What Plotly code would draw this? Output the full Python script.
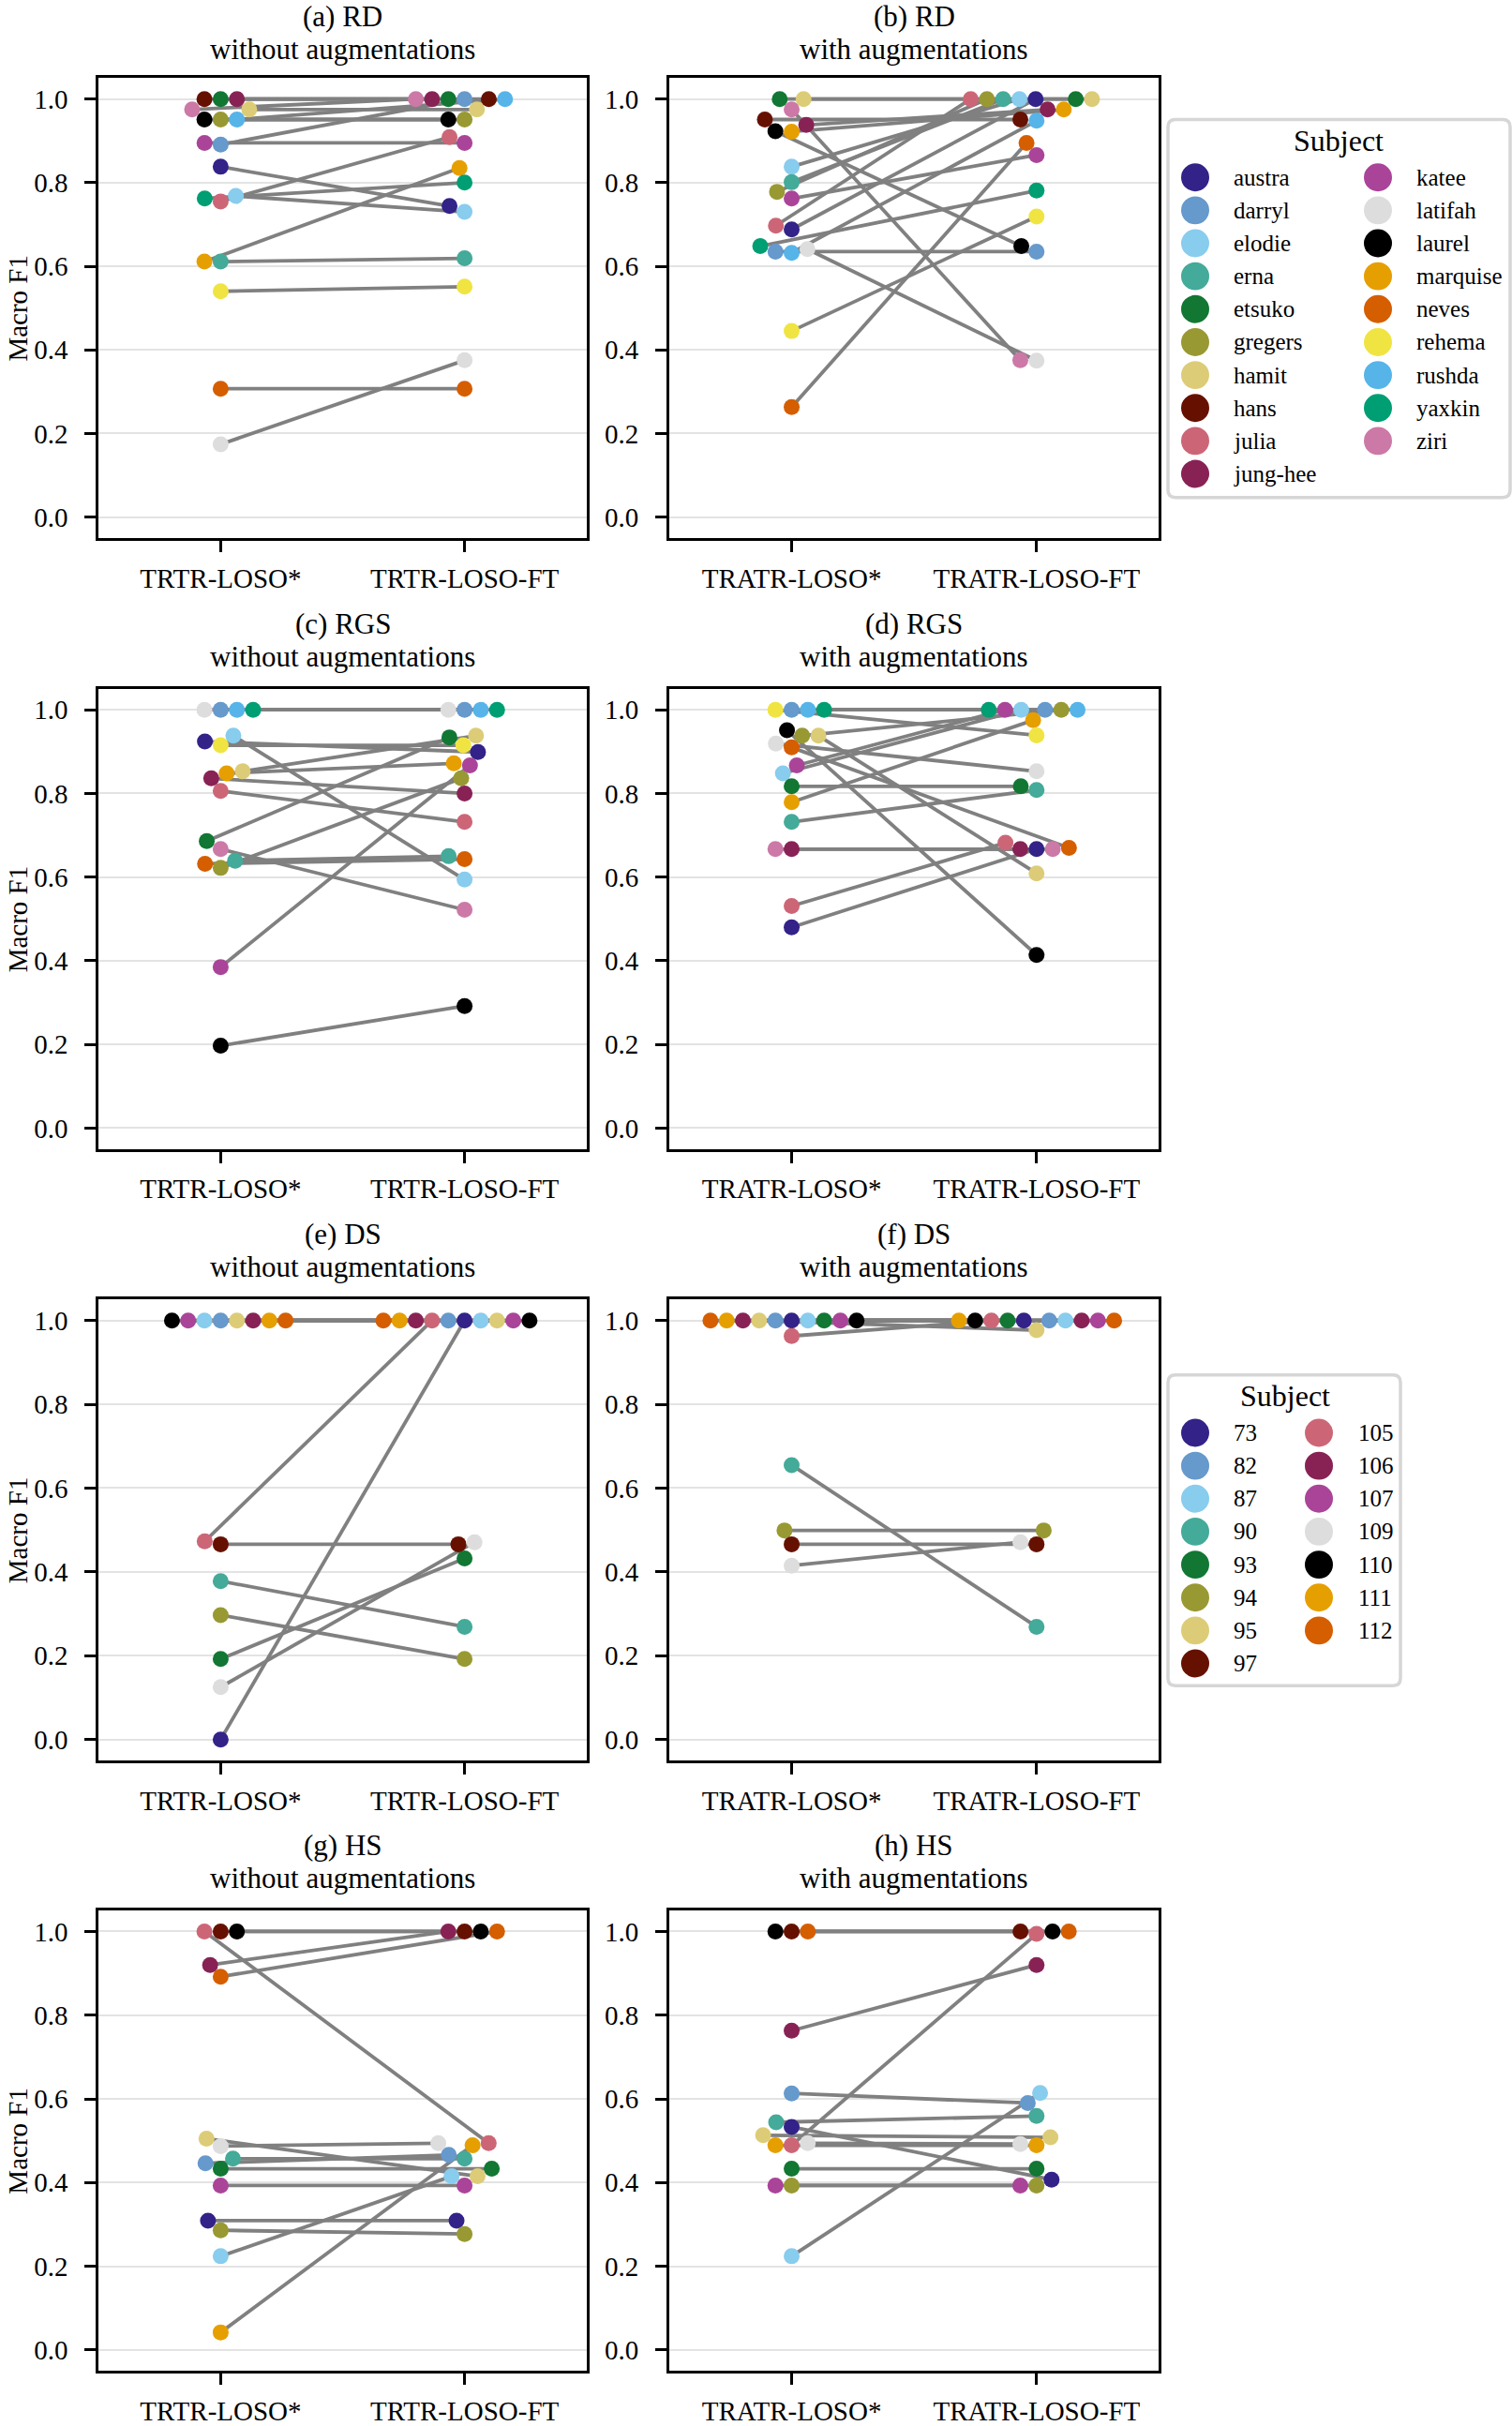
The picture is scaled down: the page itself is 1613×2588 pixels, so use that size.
import numpy as np
import plotly.graph_objects as go

# ---------------- data ----------------
NAMES = ["austra", "darryl", "elodie", "erna", "etsuko", "gregers", "hamit", "hans", "julia", "jung-hee",
         "katee", "latifah", "laurel", "marquise", "neves", "rehema", "rushda", "yaxkin", "ziri"]
NAME_COLORS = ["#332288", "#6699CC", "#88CCEE", "#44AA99", "#117733", "#999933", "#DDCC77", "#661100", "#CC6677",
               "#882255", "#AA4499", "#DDDDDD", "#000000", "#E69F00", "#D55E00", "#F0E442", "#56B4E9", "#009E73",
               "#CC79A7"]
RGS_NAMES = ["austra", "darryl", "elodie", "erna", "etsuko", "gregers", "hamit", "julia", "jung-hee",
             "katee", "latifah", "laurel", "marquise", "neves", "rehema", "rushda", "yaxkin", "ziri"]
NUMS = ["73", "82", "87", "90", "93", "94", "95", "97", "105", "106", "107", "109", "110", "111", "112"]
NUM_COLORS = ["#332288", "#6699CC", "#88CCEE", "#44AA99", "#117733", "#999933", "#DDCC77", "#661100", "#CC6677",
              "#882255", "#AA4499", "#DDDDDD", "#000000", "#E69F00", "#D55E00"]

TICKS_TRTR = ["TRTR-LOSO*", "TRTR-LOSO-FT"]
TICKS_TRATR = ["TRATR-LOSO*", "TRATR-LOSO-FT"]

RD_NOAUG_LOSO = [0.838, 0.891, 0.768, 0.611, 1.0, 0.951, 0.975, 1.0, 0.755, 1.0, 0.895, 0.174, 0.951, 0.611,
                 0.307, 0.540, 0.951, 0.762, 0.975]
RD_NOAUG_FT = [0.744, 1.0, 0.730, 0.619, 1.0, 0.951, 0.975, 1.0, 0.909, 1.0, 0.895, 0.375, 0.951, 0.835,
               0.307, 0.551, 1.0, 0.800, 1.0]
RD_AUG_LOSO = [0.688, 0.635, 0.838, 0.801, 1.0, 0.778, 1.0, 0.951, 0.697, 0.938, 0.762, 0.641, 0.923, 0.922,
               0.263, 0.445, 0.632, 0.648, 0.975]
RD_AUG_FT = [1.0, 0.635, 1.0, 1.0, 1.0, 1.0, 1.0, 0.951, 1.0, 0.975, 0.866, 0.374, 0.648, 0.975,
             0.895, 0.719, 0.948, 0.781, 0.375]

RGS_NOAUG_LOSO = [0.924, 1.0, 0.938, 0.639, 0.686, 0.622, 0.853, 0.806, 0.836, 0.385, 1.0, 0.197, 0.848,
                  0.632, 0.915, 1.0, 1.0, 0.667]
RGS_NOAUG_FT = [0.899, 1.0, 0.594, 0.650, 0.934, 0.836, 0.938, 0.732, 0.800, 0.867, 1.0, 0.292, 0.872,
                0.643, 0.915, 1.0, 1.0, 0.522]
RGS_AUG_LOSO = [0.480, 1.0, 0.848, 0.732, 0.817, 0.938, 0.938, 0.531, 0.667, 0.867, 0.919, 0.951, 0.779,
                0.910, 1.0, 1.0, 1.0, 0.667]
RGS_AUG_FT = [0.667, 1.0, 1.0, 0.808, 0.817, 1.0, 0.609, 0.682, 0.667, 1.0, 0.853, 0.414, 0.975,
              0.670, 0.939, 1.0, 1.0, 0.667]

DS_NOAUG_LOSO = [0.0, 1.0, 1.0, 0.378, 0.192, 0.297, 1.0, 0.466, 0.473, 1.0, 1.0, 0.125, 1.0, 1.0, 1.0]
DS_NOAUG_FT = [1.0, 1.0, 1.0, 0.269, 0.432, 0.192, 1.0, 0.466, 1.0, 1.0, 1.0, 0.471, 1.0, 1.0, 1.0]
DS_AUG_LOSO = [1.0, 1.0, 1.0, 0.655, 1.0, 0.499, 1.0, 0.466, 0.963, 1.0, 1.0, 0.415, 1.0, 1.0, 1.0]
DS_AUG_FT = [1.0, 1.0, 1.0, 0.269, 1.0, 0.499, 0.977, 0.466, 1.0, 1.0, 1.0, 0.471, 1.0, 1.0, 1.0]

HS_NOAUG_LOSO = [0.309, 0.446, 0.224, 0.457, 0.433, 0.286, 0.505, 1.0, 1.0, 0.920, 0.393, 0.487, 1.0, 0.042, 0.892]
HS_NOAUG_FT = [0.309, 0.466, 0.415, 0.457, 0.433, 0.277, 0.415, 1.0, 0.494, 1.0, 0.393, 0.494, 1.0, 0.489, 1.0]
HS_AUG_LOSO = [0.533, 0.613, 0.224, 0.544, 0.433, 0.393, 0.513, 1.0, 0.489, 0.763, 0.393, 0.494, 1.0, 0.489, 1.0]
HS_AUG_FT = [0.407, 0.590, 0.614, 0.559, 0.433, 0.393, 0.508, 1.0, 0.994, 0.920, 0.393, 0.492, 1.0, 0.489, 1.0]

NAME_COLOR = dict(zip(NAMES, NAME_COLORS))
RGS_COLORS = [NAME_COLOR[n] for n in RGS_NAMES]

PANELS = [
    ("(a) RD", "without augmentations", NAMES, NAME_COLORS, RD_NOAUG_LOSO, RD_NOAUG_FT, TICKS_TRTR),
    ("(b) RD", "with augmentations", NAMES, NAME_COLORS, RD_AUG_LOSO, RD_AUG_FT, TICKS_TRATR),
    ("(c) RGS", "without augmentations", RGS_NAMES, RGS_COLORS, RGS_NOAUG_LOSO, RGS_NOAUG_FT, TICKS_TRTR),
    ("(d) RGS", "with augmentations", RGS_NAMES, RGS_COLORS, RGS_AUG_LOSO, RGS_AUG_FT, TICKS_TRATR),
    ("(e) DS", "without augmentations", NUMS, NUM_COLORS, DS_NOAUG_LOSO, DS_NOAUG_FT, TICKS_TRTR),
    ("(f) DS", "with augmentations", NUMS, NUM_COLORS, DS_AUG_LOSO, DS_AUG_FT, TICKS_TRATR),
    ("(g) HS", "without augmentations", NUMS, NUM_COLORS, HS_NOAUG_LOSO, HS_NOAUG_FT, TICKS_TRTR),
    ("(h) HS", "with augmentations", NUMS, NUM_COLORS, HS_AUG_LOSO, HS_AUG_FT, TICKS_TRATR),
]

# ---------------- layout constants (pixels) ----------------
W, H = 1613, 2588
FONT = "Liberation Serif"
COL_X = [(105.3, 625.7), (713.9, 1236.4)]
ROW_Y = [(83.7, 576.3), (738.0, 1231.0), (1392.3, 1886.0), (2046.8, 2540.0)]
X_RANGE = [-0.5, 1.5]
Y_RANGE = [-0.05, 1.05]
MARKER = 17
R_SWARM = 8.25
TITLE_SIZE = 31
TICK_SIZE = 29


def px_x(x):
    return x / W


def px_y(y):
    return 1 - y / H


def beeswarm(xyr):
    midline = xyr[0, 0]
    swarm = [xyr[0]]
    for p in xyr[1:]:
        neighbors = []
        for q in reversed(swarm):
            if (p[1] - q[1]) < (p[2] + q[2]):
                neighbors.append(q)
            else:
                break
        cands = [p]
        left_first = True
        for q in neighbors:
            dy = p[1] - q[1]
            dx = np.sqrt(max((p[2] + q[2]) ** 2 - dy ** 2, 0)) * 1.05
            cl = np.array([q[0] - dx, p[1], p[2]])
            cr = np.array([q[0] + dx, p[1], p[2]])
            cands.extend([cl, cr] if left_first else [cr, cl])
            left_first = not left_first
        cands = np.array(cands)
        order = np.argsort(np.abs(cands[:, 0] - midline), kind="stable")
        chosen = cands[0]
        for c in cands[order]:
            if all((q[0] - c[0]) ** 2 + (q[1] - c[1]) ** 2 >= (q[2] + c[2]) ** 2 for q in neighbors):
                chosen = c
                break
        swarm.append(chosen)
    return np.array(swarm)


def swarm_offsets(values, px_per_x, px_per_y):
    v = np.asarray(values, dtype=float)
    n = len(v)
    xyr = np.c_[np.zeros(n), v * px_per_y, np.full(n, R_SWARM)]
    sorter = np.argsort(xyr[:, 1], kind="stable")
    placed = beeswarm(xyr[sorter])
    out = np.empty_like(xyr)
    out[sorter] = placed
    return out[:, 0] / px_per_x


fig = go.Figure()
annotations = []
shapes = []

for i, (t1, t2, subj, cols, v0, v1, ticks) in enumerate(PANELS):
    r, c = divmod(i, 2)
    x0p, x1p = COL_X[c]
    y0p, y1p = ROW_Y[r]
    ppx = (x1p - x0p) / (X_RANGE[1] - X_RANGE[0])
    ppy = (y1p - y0p) / (Y_RANGE[1] - Y_RANGE[0])
    off0 = swarm_offsets(v0, ppx, ppy)
    off1 = swarm_offsets(v1, ppx, ppy)
    xs0 = 0 + off0
    xs1 = 1 + off1
    sfx = "" if i == 0 else str(i + 1)
    xa, ya = "x" + sfx, "y" + sfx

    lx, ly = [], []
    for k in range(len(subj)):
        lx += [xs0[k], xs1[k], None]
        ly += [v0[k], v1[k], None]
    fig.add_trace(go.Scatter(x=lx, y=ly, mode="lines", line=dict(color="#808080", width=3.8),
                             xaxis=xa, yaxis=ya, showlegend=False, hoverinfo="skip"))
    fig.add_trace(go.Scatter(x=list(xs0) + list(xs1), y=list(v0) + list(v1), mode="markers",
                             marker=dict(size=MARKER, color=list(cols) + list(cols), line=dict(width=0)),
                             text=list(subj) + list(subj), xaxis=xa, yaxis=ya, showlegend=False,
                             cliponaxis=False))

    axis_common = dict(showline=True, linecolor="black", linewidth=2.8, mirror=True,
                       ticks="outside", ticklen=12, tickwidth=2.6, tickcolor="black",
                       tickfont=dict(family=FONT, size=TICK_SIZE, color="black"), zeroline=False)
    fig.layout["xaxis" + sfx] = dict(domain=[px_x(x0p), px_x(x1p)], range=X_RANGE, anchor=ya,
                                     tickvals=[0, 1], ticktext=ticks, showgrid=False,
                                     ticklabelstandoff=3, **axis_common)
    fig.layout["yaxis" + sfx] = dict(domain=[px_y(y1p), px_y(y0p)], range=Y_RANGE, anchor=xa,
                                     tickvals=[0, 0.2, 0.4, 0.6, 0.8, 1.0], tickformat=".1f",
                                     showgrid=True, gridcolor="#e3e3e3", gridwidth=2,
                                     ticklabelstandoff=12, **axis_common)

    cx = (x0p + x1p) / 2
    y_line1 = max(y0p - 70, 18)
    y_line2 = y_line1 + 35
    annotations.append(dict(text=t1, x=px_x(cx), y=px_y(y_line1), xref="paper", yref="paper",
                            xanchor="center", yanchor="middle", showarrow=False,
                            font=dict(family=FONT, size=TITLE_SIZE, color="black")))
    annotations.append(dict(text=t2, x=px_x(cx), y=px_y(y_line2), xref="paper", yref="paper",
                            xanchor="center", yanchor="middle", showarrow=False,
                            font=dict(family=FONT, size=TITLE_SIZE, color="black")))
    if c == 0:
        annotations.append(dict(text="Macro F1", x=px_x(19), y=px_y((y0p + y1p) / 2), xref="paper",
                                yref="paper", xanchor="center", yanchor="middle", textangle=-90,
                                showarrow=False, font=dict(family=FONT, size=TICK_SIZE, color="black")))


# ---------------- custom legends ----------------
def rounded_rect(x0, y0, x1, y1, rad):
    pts = [
        f"M {px_x(x0 + rad)} {px_y(y0)}",
        f"L {px_x(x1 - rad)} {px_y(y0)}",
        f"Q {px_x(x1)} {px_y(y0)} {px_x(x1)} {px_y(y0 + rad)}",
        f"L {px_x(x1)} {px_y(y1 - rad)}",
        f"Q {px_x(x1)} {px_y(y1)} {px_x(x1 - rad)} {px_y(y1)}",
        f"L {px_x(x0 + rad)} {px_y(y1)}",
        f"Q {px_x(x0)} {px_y(y1)} {px_x(x0)} {px_y(y1 - rad)}",
        f"L {px_x(x0)} {px_y(y0 + rad)}",
        f"Q {px_x(x0)} {px_y(y0)} {px_x(x0 + rad)} {px_y(y0)}",
        "Z",
    ]
    return " ".join(pts)


LEGENDS = [
    dict(box=(1246, 128, 1611, 533), title=(1428, 151), row0=190, n_col1=10,
         cols=[(1275, 1314), (1470, 1509)], labels=NAMES, colors=NAME_COLORS),
    dict(box=(1246, 1473, 1494, 1806), title=(1371, 1495), row0=1535, n_col1=8,
         cols=[(1275, 1314), (1407, 1447)], labels=NUMS, colors=NUM_COLORS),
]
ROW_STEP = 35.3
LEG_R = 15

for lg in LEGENDS:
    bx0, by0, bx1, by1 = lg["box"]
    shapes.append(dict(type="path", path=rounded_rect(bx0, by0, bx1, by1, 8), xref="paper", yref="paper",
                       line=dict(color="#d6d6d6", width=3.5), fillcolor="white", layer="above"))
    annotations.append(dict(text="Subject", x=px_x(lg["title"][0]), y=px_y(lg["title"][1]), xref="paper",
                            yref="paper", xanchor="center", yanchor="middle", showarrow=False,
                            font=dict(family=FONT, size=32, color="black")))
    for k, (lab, col) in enumerate(zip(lg["labels"], lg["colors"])):
        ci = 0 if k < lg["n_col1"] else 1
        ri = k if ci == 0 else k - lg["n_col1"]
        mx, tx = lg["cols"][ci]
        cy = lg["row0"] + ri * ROW_STEP
        shapes.append(dict(type="circle", xref="paper", yref="paper",
                           x0=px_x(mx - LEG_R), x1=px_x(mx + LEG_R), y0=px_y(cy + LEG_R), y1=px_y(cy - LEG_R),
                           fillcolor=col, line=dict(width=0), layer="above"))
        annotations.append(dict(text=lab, x=px_x(tx), y=px_y(cy), xref="paper", yref="paper",
                                xanchor="left", yanchor="middle", showarrow=False,
                                font=dict(family=FONT, size=25, color="black")))

fig.update_layout(width=W, height=H, margin=dict(l=0, r=0, t=0, b=0), autosize=False,
                  paper_bgcolor="white", plot_bgcolor="white", showlegend=False,
                  annotations=annotations, shapes=shapes,
                  font=dict(family=FONT, size=TICK_SIZE, color="black"))

fig.write_html("out.html")
